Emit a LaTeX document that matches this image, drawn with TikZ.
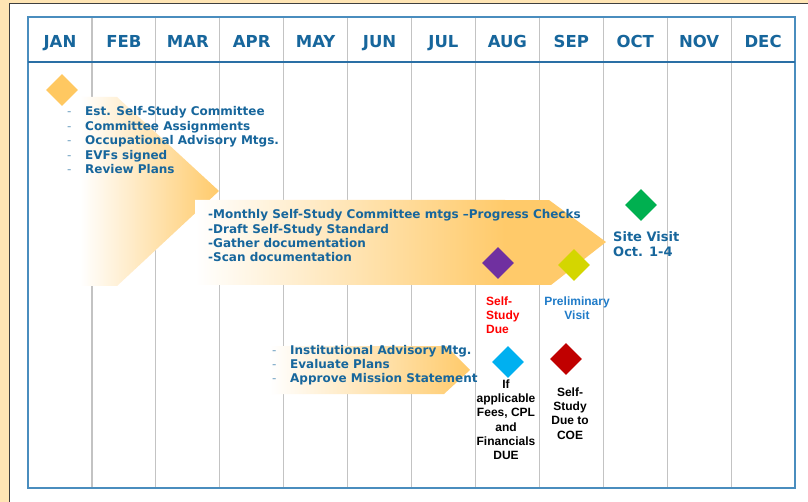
\documentclass[tikz,border=0pt]{standalone}
\usepackage{fontspec}
\setmainfont{DejaVu Sans}
\newfontfamily\arialfont{Liberation Sans}
\usetikzlibrary{shapes.geometric}

\definecolor{bgorange}{HTML}{FFE5B4}
\definecolor{framegray}{HTML}{3F3F3F}
\definecolor{tableblue}{HTML}{4A8DBE}
\definecolor{headblue}{HTML}{2A6FA5}
\definecolor{gridgray}{HTML}{C3C3C3}
\definecolor{calblue}{HTML}{17669C}
\definecolor{arroworange}{HTML}{FFCA6A}
\definecolor{dorange}{HTML}{FFC861}
\definecolor{dgreen}{HTML}{00B050}
\definecolor{dpurple}{HTML}{7030A0}
\definecolor{dlime}{HTML}{D4D600}
\definecolor{dcyan}{HTML}{00B0F0}
\definecolor{dred}{HTML}{C00000}
\definecolor{prelimblue}{HTML}{1F7BC8}

\begin{document}
\begin{tikzpicture}[x=1pt, y=-1pt, inner sep=0pt,
    month/.style={anchor=base, text=calblue, font=\fontsize{16.5}{19}\selectfont\bfseries},
    item/.style={anchor=base west, text=calblue, font=\fontsize{12}{14}\selectfont\bfseries},
    bullet/.style={anchor=base west, text=calblue!65, font=\fontsize{12}{14}\selectfont},
    site/.style={anchor=north west, align=left, text=calblue, font=\fontsize{13}{15}\selectfont\bfseries},
    note/.style={align=center, font=\arialfont\bfseries\fontsize{12}{14.3}\selectfont},
    gem/.style={diamond, fill=#1, minimum size=32pt}]
    \useasboundingbox (0,0) rectangle (808,502);
    \fill[bgorange] (0,0) rectangle (808,502);
    \filldraw[fill=white, draw=framegray, line width=1pt] (9.5,3.5) rectangle (815,510);

    % month grid
    \draw[gridgray, line width=1.2pt] foreach \i in {1,...,11} {(28+63.92*\i,17) -- (28+63.92*\i,488)};
    \draw[tableblue, line width=1.5pt] (28,17) rectangle (795,488);
    \draw[headblue, line width=1.8pt] (28,62) -- (795,62);
    \foreach \m [count=\i] in {JAN,FEB,MAR,APR,MAY,JUN,JUL,AUG,SEP,OCT,NOV,DEC}
        \node[month] (m\i) at (28+63.92*\i-31.96, 48) {\m};

    % phase arrows
    \begin{scope}
        \clip (45,97) -- (117,97) -- (219,191) -- (117,286) -- (45,286) -- cycle;
        \fill[white] (45,97) rectangle (219,286);
        \shade[left color=white, right color=arroworange] (80,97) rectangle (220,286);
    \end{scope}
    \begin{scope}
        \clip (195,200) -- (549,200) -- (606,242) -- (551,285) -- (195,285) -- cycle;
        \fill[arroworange] (195,200) rectangle (606,285);
        \shade[left color=white, right color=arroworange] (195,200) rectangle (505,285);
    \end{scope}
    \shade[left color=white, right color=arroworange] (270,346) -- (446,346) -- (470,370) -- (444,394) -- (270,394) -- cycle;

    % milestones
    \node[gem=dorange] (kickoff) at (62,90) {};
    \node[gem=dgreen] (visit) at (641,205) {};
    \node[gem=dpurple] (due) at (498,263) {};
    \node[gem=dlime] (prelim) at (574,265) {};
    \node[gem=dcyan] (fees) at (508,362) {};
    \node[gem=dred] (coe) at (566,359) {};

    % phase texts
    \foreach \txt [count=\i] in {Est. Self-Study Committee, Committee Assignments,
        Occupational Advisory Mtgs., EVFs signed, Review Plans} {
        \node[bullet] (d1-\i) at (67, 116+14.4*\i-14.4) {-};
        \node[item] (p1-\i) at (85, 116+14.4*\i-14.4) {\txt};
    }
    \foreach \txt [count=\i] in {-Monthly Self-Study Committee mtgs –Progress Checks,
        -Draft Self-Study Standard, -Gather documentation, -Scan documentation}
        \node[item] (p2-\i) at (208, 219+14.2*\i-14.2) {\txt};
    \foreach \txt [count=\i] in {Institutional Advisory Mtg., Evaluate Plans, Approve Mission Statement} {
        \node[bullet] (d3-\i) at (272, 354+14.4*\i-14.4) {-};
        \node[item] (p3-\i) at (290, 354+14.4*\i-14.4) {\txt};
    }

    \node[site] (visittext) at (613,231.5) {Site Visit\\Oct. 1-4};
    \node[note, anchor=north west, align=left, text=red] (duetext) at (486,296.4) {Self-\\Study\\Due};
    \node[note, anchor=north, text=prelimblue] (prelimtext) at (577,296.4) {Preliminary\\Visit};
    \node[note, anchor=north] (feestext) at (506,379.4) {If\\applicable\\Fees, CPL\\and\\Financials\\DUE};
    \node[note, anchor=north] (coetext) at (570,387.4) {Self-\\Study\\Due to\\COE};
\end{tikzpicture}
\end{document}
